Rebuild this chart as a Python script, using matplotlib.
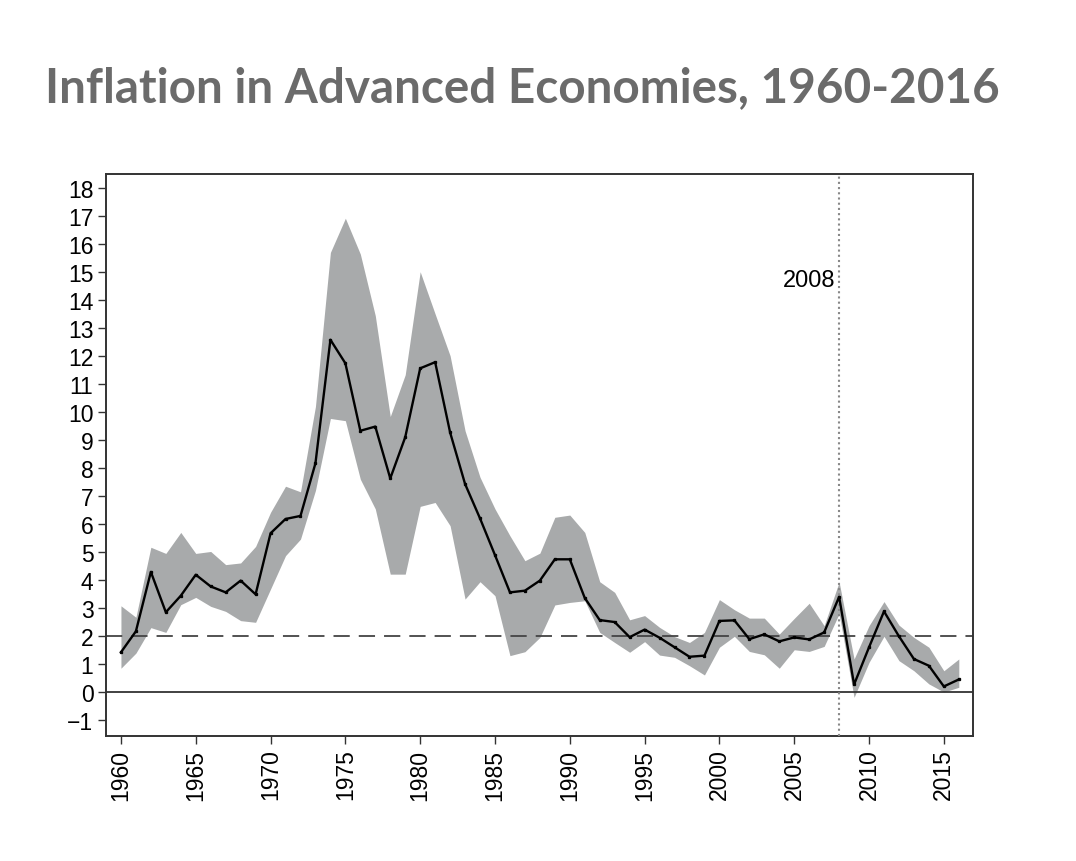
import matplotlib
matplotlib.use("Agg")
import matplotlib.pyplot as plt
from matplotlib import font_manager as fm
import numpy as np

years = list(range(1960, 2017))
median = [1.42, 2.17, 4.29, 2.85, 3.44, 4.19, 3.77, 3.56, 3.98, 3.49,
          5.67, 6.18, 6.29, 8.17, 12.58, 11.74, 9.33, 9.48, 7.63, 9.10,
          11.56, 11.78, 9.27, 7.43, 6.20, 4.89, 3.56, 3.62, 3.98, 4.74,
          4.74, 3.36, 2.57, 2.50, 1.96, 2.23, 1.94, 1.60, 1.26, 1.30,
          2.54, 2.56, 1.89, 2.06, 1.81, 1.95, 1.88, 2.13, 3.40, 0.27,
          1.60, 2.88, 1.99, 1.18, 0.94, 0.20, 0.45]
upper = [3.08, 2.67, 5.17, 4.95, 5.70, 4.95, 5.02, 4.55, 4.61, 5.20,
         6.42, 7.35, 7.15, 10.2, 15.70, 16.92, 15.64, 13.44, 9.84, 11.33,
         15.01, 13.50, 12.01, 9.33, 7.67, 6.54, 5.58, 4.69, 4.96, 6.24,
         6.32, 5.70, 3.94, 3.56, 2.58, 2.73, 2.31, 1.98, 1.77, 2.13,
         3.30, 2.94, 2.64, 2.64, 2.07, 2.63, 3.17, 2.37, 3.93, 1.18,
         2.37, 3.23, 2.39, 1.95, 1.60, 0.76, 1.18]
lower = [0.85, 1.39, 2.30, 2.13, 3.12, 3.38, 3.06, 2.88, 2.55, 2.49,
         3.68, 4.87, 5.46, 7.2, 9.77, 9.69, 7.60, 6.54, 4.21, 4.21,
         6.63, 6.77, 5.94, 3.32, 3.94, 3.44, 1.30, 1.44, 1.95, 3.11,
         3.20, 3.26, 2.13, 1.77, 1.42, 1.80, 1.32, 1.24, 0.94, 0.61,
         1.60, 1.99, 1.45, 1.33, 0.85, 1.51, 1.45, 1.63, 2.80, -0.19,
         1.06, 1.99, 1.12, 0.76, 0.29, 0.00, 0.17]

title = "Inflation in Advanced Economies, 1960-2016"
xticks = list(range(1960, 2016, 5))
yticks = list(range(-1, 19))
target = 2
marker_year = 2008

# locate regular (non-narrow) Liberation Sans
fpath = None
for f in fm.findSystemFonts():
    name = f.split("/")[-1].lower()
    if name in ("liberationsans-regular.ttf",):
        fpath = f
        break
if fpath:
    fp = fm.FontProperties(fname=fpath, size=16.5)
    fp2008 = fm.FontProperties(fname=fpath, size=17)
else:
    fp = fm.FontProperties(family="DejaVu Sans", size=15)
    fp2008 = fm.FontProperties(family="DejaVu Sans", size=15.5)

fig = plt.figure(figsize=(10.76, 8.62), dpi=100)
ax = fig.add_axes([0.0985, 0.145, 0.9043 - 0.0985, 0.797 - 0.145])

ax.fill_between(years, lower, upper, color="#a8aaab", linewidth=0, zorder=1)
ax.axhline(0, color="#333333", linewidth=1.3, zorder=2)
ax.axhline(target, color="#444444", linewidth=1.3, dashes=(9, 5), zorder=2)
ax.axvline(marker_year, color="#888888", linewidth=1.5, linestyle=(0, (1, 1.5)), zorder=3)
ax.plot(years, median, color="black", linewidth=1.7, marker="s", markersize=1.4, zorder=4)
ax.text(marker_year - 0.25, 14.7, str(marker_year), ha="right", va="center",
        fontproperties=fp2008, color="black")

ax.set_xlim(1959.0, 2016.95)
ax.set_ylim(-1.57, 18.5)
ax.set_xticks(xticks)
ax.set_xticklabels([str(x) for x in xticks], rotation=90)
ax.set_yticks(yticks)
ax.set_yticklabels([("\u22121" if y < 0 else str(y)) for y in yticks])
for lbl in ax.get_xticklabels() + ax.get_yticklabels():
    lbl.set_fontproperties(fp)
ax.tick_params(direction="out", length=6, width=1.0, color="#333333", pad=3)
for s in ax.spines.values():
    s.set_color("#333333")
    s.set_linewidth(1.4)

fig.text(45 / 1076, 1 - 88 / 862, title, ha="left", va="center", fontsize=34.3,
         family="Lato", fontweight="bold", color="#6b6b6b")

fig.savefig("out.png", dpi=100)
